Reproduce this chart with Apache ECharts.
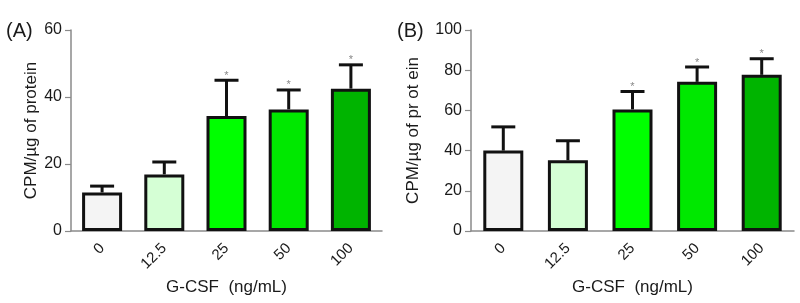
<!DOCTYPE html>
<html>
<head>
<meta charset="utf-8">
<script src="https://cdn.jsdelivr.net/npm/echarts@6/dist/echarts.min.js"></script>
<style>html,body{margin:0;padding:0;background:#fff;}#c{width:800px;height:303px;}</style>
</head>
<body>
<div id="c"></div>
<script>
const categories = ['0', '12.5', '25', '50', '100'];
const barColors = ['#f4f4f4', '#d5ffd5', '#00ff00', '#00e800', '#00b400'];
const meanA = [11.5, 16.9, 34.3, 36.3, 42.5];
const upperA = [13.4, 20.6, 45.0, 42.1, 49.6];
const sigA = ['', '', '*', '*', '*'];
const meanB = [40.0, 35.2, 60.5, 74.2, 77.7];
const upperB = [51.8, 44.9, 69.4, 81.6, 85.7];
const sigB = ['', '', '*', '*', '*'];
const yTicksA = { min: 0, max: 60, interval: 20 };
const yTicksB = { min: 0, max: 100, interval: 20 };
const panelLabels = ['(A)', '(B)'];
const yTitles = ['CPM/µg of protein', 'CPM/µg of pr ot ein'];
const xTitle = 'G-CSF  (ng/mL)';

const font = 'Arial, "Liberation Sans", sans-serif';
const txt = '#1a1a1a';
const axisGray = '#8a8a8a';

function xAxis(gi) {
  return {
    type: 'category', gridIndex: gi, data: categories,
    axisLine: { lineStyle: { color: axisGray, width: 1.5 } },
    axisTick: { alignWithLabel: true, length: 5, lineStyle: { color: axisGray, width: 1.2 } },
    axisLabel: { rotate: 45, fontSize: 15, color: txt, fontFamily: font, margin: 15 },
    name: xTitle, nameLocation: 'middle', nameGap: 44,
    nameTextStyle: { fontSize: 17, color: txt, fontFamily: font }
  };
}
function yAxis(gi, t, title, gap) {
  return {
    type: 'value', gridIndex: gi, min: t.min, max: t.max, interval: t.interval,
    axisLine: { show: true, lineStyle: { color: axisGray, width: 1.5 } },
    axisTick: { show: true, length: 6, lineStyle: { color: axisGray, width: 1.2 } },
    splitLine: { show: false },
    axisLabel: { fontSize: 16, color: txt, fontFamily: font, margin: 9 },
    name: title, nameLocation: 'middle', nameGap: gap,
    nameTextStyle: { fontSize: 17, color: txt, fontFamily: font }
  };
}
function bars(gi, mean) {
  return {
    type: 'bar', xAxisIndex: gi, yAxisIndex: gi, barWidth: 40,
    data: mean.map((v, i) => ({ value: v, itemStyle: { color: barColors[i] } })),
    itemStyle: { borderColor: '#111', borderWidth: 3 },
    z: 2
  };
}
function errors(gi, mean, upper, sig) {
  return {
    type: 'custom', xAxisIndex: gi, yAxisIndex: gi, z: 3,
    data: mean.map((v, i) => [i, v, upper[i], sig[i]]),
    renderItem: function (params, api) {
      const i = api.value(0);
      const p0 = api.coord([i, api.value(1)]);
      const p1 = api.coord([i, api.value(2)]);
      const s = sig[i];
      const half = 12;
      const ch = [
        { type: 'line', shape: { x1: p0[0], y1: p0[1], x2: p1[0], y2: p1[1] }, style: { stroke: '#111', lineWidth: 3 } },
        { type: 'line', shape: { x1: p1[0] - half, y1: p1[1], x2: p1[0] + half, y2: p1[1] }, style: { stroke: '#111', lineWidth: 3 } }
      ];
      if (s) {
        ch.push({ type: 'text', x: p1[0], y: p1[1] + 1, style: { text: s, fontSize: 11, fill: '#888', align: 'center', verticalAlign: 'bottom', fontFamily: font } });
      }
      return { type: 'group', children: ch };
    }
  };
}

const chart = echarts.init(document.getElementById('c'), null, { renderer: 'canvas' });
chart.setOption({
  backgroundColor: '#fff',
  animation: false,
  grid: [
    { left: 71, top: 30, width: 311, height: 201 },
    { left: 471, top: 30, width: 323, height: 201 }
  ],
  xAxis: [xAxis(0), xAxis(1)],
  yAxis: [yAxis(0, yTicksA, yTitles[0], 30), yAxis(1, yTicksB, yTitles[1], 49)],
  graphic: [
    { type: 'text', left: 6, top: 21, style: { text: panelLabels[0], fontSize: 20, fill: txt, fontFamily: font } },
    { type: 'text', left: 397, top: 21, style: { text: panelLabels[1], fontSize: 20, fill: txt, fontFamily: font } }
  ],
  series: [
    bars(0, meanA), errors(0, meanA, upperA, sigA),
    bars(1, meanB), errors(1, meanB, upperB, sigB)
  ]
});
</script>
</body>
</html>
